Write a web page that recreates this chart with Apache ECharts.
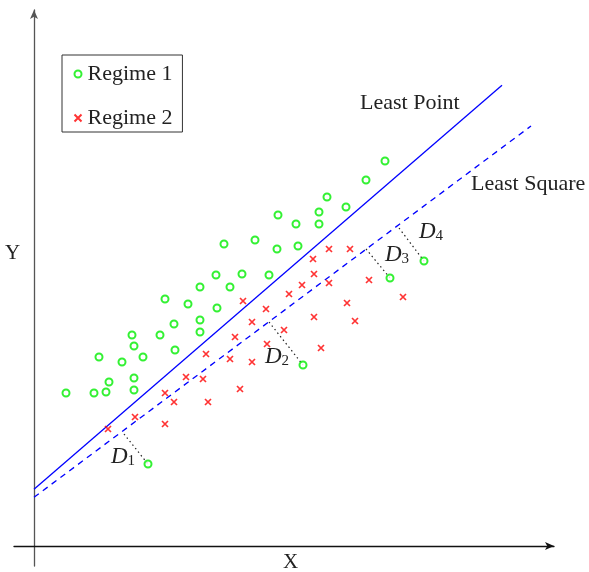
<!DOCTYPE html>
<html>
<head>
<meta charset="utf-8">
<script src="https://cdn.jsdelivr.net/npm/echarts@6/dist/echarts.min.js"></script>
<style>
  html, body { margin: 0; padding: 0; background: #fff; }
  #chart { width: 589px; height: 572px; }
</style>
</head>
<body>
<div id="chart"></div>
<script>
// Regime 1 points (green circles)
var regime1 = [
  [3.2, 15.3], [6.0, 15.3], [7.2, 15.4], [7.5, 16.4], [10.0, 15.6], [10.0, 16.8],
  [6.5, 18.9], [8.8, 18.4], [10.9, 18.9], [10.0, 20.0], [9.8, 21.1], [12.6, 21.1],
  [14.1, 19.6], [14.0, 22.2], [16.6, 22.6], [16.6, 21.4], [13.1, 24.7], [15.4, 24.2],
  [18.3, 23.8], [16.6, 25.9], [19.6, 25.9], [18.2, 27.1], [20.8, 27.2], [23.5, 27.1],
  [19.0, 30.2], [22.1, 30.6], [24.3, 29.7], [26.4, 30.0], [24.4, 33.1], [26.2, 32.2],
  [28.5, 32.2], [28.5, 33.4], [29.3, 34.9], [31.2, 33.9], [33.2, 36.6], [35.1, 38.5],
  [11.4, 8.2], [26.9, 18.1], [35.6, 26.8], [39.0, 28.5]
];
// Regime 2 points (red crosses)
var regime2 = [
  [7.4, 11.7], [10.1, 12.9], [13.1, 12.2], [13.1, 15.3], [14.0, 14.4], [17.4, 14.4],
  [15.2, 16.9], [16.9, 16.7], [20.6, 15.7], [17.2, 19.2], [19.6, 18.7], [21.8, 18.4],
  [20.1, 20.9], [23.3, 20.2], [21.8, 22.4], [20.9, 24.5], [23.2, 23.7], [25.0, 21.6],
  [25.5, 25.2], [26.8, 26.1], [28.0, 22.9], [28.7, 19.8], [28.0, 27.2], [27.9, 28.7],
  [29.5, 26.3], [29.5, 29.7], [31.6, 29.7], [33.5, 26.6], [31.3, 24.3], [32.1, 22.5],
  [36.9, 24.9]
];
// fitted lines (end points)
var leastPoint = [[0, 5.67], [46.8, 46.07]];
var leastSquare = [[0, 4.87], [49.7, 42.0]];
// distances D1..D4: foot on the least square line -> point
var distances = [
  [[9.0, 11.2], [11.4, 8.2]],
  [[23.5, 22.4], [26.9, 18.1]],
  [[33.2, 29.7], [35.6, 26.8]],
  [[36.5, 31.8], [39.0, 28.5]]
];
var distLabels = ['1', '2', '3', '4'];

var serif = '"Liberation Serif", "DejaVu Serif", serif';

var chart = echarts.init(document.getElementById('chart'));

var axisCommon = {
  type: 'value',
  axisTick: { show: false },
  axisLabel: { show: false },
  splitLine: { show: false }
};

chart.setOption({
  animation: false,
  backgroundColor: '#fff',
  grid: { left: 14, top: 10, width: 540, height: 556 },
  xAxis: Object.assign({}, axisCommon, {
    min: -2, max: 52,
    axisLine: { onZero: true, symbol: ['none', 'arrow'], symbolSize: [6, 9],
      lineStyle: { color: '#111', width: 1.3 } }
  }),
  yAxis: Object.assign({}, axisCommon, {
    min: -2, max: 53.6,
    axisLine: { onZero: true, symbol: ['none', 'arrow'], symbolSize: [6, 9],
      lineStyle: { color: '#555', width: 1.3 } }
  }),
  legend: {
    data: ['Regime 1', 'Regime 2'],
    orient: 'vertical',
    left: 62, top: 55,
    padding: [8, 10, 3, 10],
    itemWidth: 7, itemHeight: 7, itemGap: 22,
    borderColor: '#333', borderWidth: 1,
    textStyle: { fontFamily: serif, fontSize: 22, color: '#222', padding: [0, 0, 0, 1] }
  },
  series: [
    {
      name: 'Least Point', type: 'line', data: leastPoint,
      symbol: 'none', lineStyle: { color: '#0000ff', width: 1.3 }, z: 2
    },
    {
      name: 'Least Square', type: 'line', data: leastSquare,
      symbol: 'none', lineStyle: { color: '#0000ff', width: 1.3, type: [6, 5] }, z: 2
    },
    {
      name: 'Distances', type: 'lines', coordinateSystem: 'cartesian2d',
      data: distances.map(function (d) { return { coords: d }; }),
      lineStyle: { color: '#222', width: 1.2, type: [1.5, 3], opacity: 1 }, z: 1
    },
    {
      name: 'Regime 1', type: 'scatter', data: regime1,
      symbol: 'emptyCircle', symbolSize: 7,
      itemStyle: { color: '#00ee00', borderColor: '#00ee00', borderWidth: 1.3 }, z: 3
    },
    {
      name: 'Regime 2', type: 'scatter', data: regime2,
      symbol: 'path://M0,0L10,10M10,0L0,10', symbolSize: 6,
      itemStyle: { color: 'none', borderColor: '#ff0000', borderWidth: 1.7 }, z: 3
    }
  ],
  graphic: [
    { type: 'text', left: 360, top: 92,
      style: { text: 'Least Point', font: '22px ' + serif, fill: '#222' } },
    { type: 'text', left: 471, top: 173,
      style: { text: 'Least Square', font: '22px ' + serif, fill: '#222' } },
    { type: 'text', left: 283, top: 552,
      style: { text: 'X', font: '21px ' + serif, fill: '#222' } },
    { type: 'text', left: 5, top: 243,
      style: { text: 'Y', font: '21px ' + serif, fill: '#222' } }
  ].concat([[111, 445], [265, 345], [385, 243], [419, 220]].map(function (p, i) {
    return {
      type: 'text', left: p[0], top: p[1],
      style: {
        text: '{d|D}{s|' + distLabels[i] + '}',
        rich: {
          d: { font: 'italic 23px ' + serif, fill: '#222' },
          s: { font: '15px ' + serif, fill: '#222', verticalAlign: 'bottom', padding: [9, 0, 0, 0] }
        }
      }
    };
  }))
});
</script>
</body>
</html>
